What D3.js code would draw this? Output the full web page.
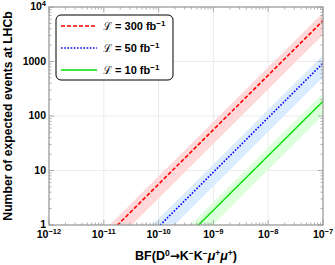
<!DOCTYPE html>
<html>
<head>
<meta charset="utf-8">
<script src="https://cdn.jsdelivr.net/npm/d3@7"></script>
<style>
body { margin: 0; background: #fff; }
text { font-family: "Liberation Sans", Arial, sans-serif; font-weight: bold; }
</style>
</head>
<body>
<div id="chart"></div>
<script>
// BF values at which each line / band edge is given
const bfPoints = [1e-12, 1e-7];
// expected events at those BF values
const red = [0.056, 5600], redHi = [0.0784, 7840], redLo = [0.0308, 3080];
const blue = [0.00933, 933], blueHi = [0.01306, 1306], blueLo = [0.00513, 513];
const green = [0.00187, 187], greenHi = [0.00262, 262], greenLo = [0.00103, 103];
const lumis = ["300", "50", "10"];
const xTickExp = [-12, -11, -10, -9, -8, -7];
const yTicks = [1, 10, 100, 1000, 10000];
const yTickLabels = ["1", "10", "100", "1000", "10^4"];

const width = 335, height = 265;
const m = {left: 49, right: 12, top: 7, bottom: 40};

const svg = d3.select("#chart").append("svg")
    .attr("width", width).attr("height", height);

const x = d3.scaleLog().domain([1e-12, 1e-7]).range([m.left, width - m.right]);
const y = d3.scaleLog().domain([1, 1e4]).range([height - m.bottom, m.top]);

svg.append("clipPath").attr("id", "clip")
    .append("rect")
    .attr("x", m.left).attr("y", m.top)
    .attr("width", width - m.left - m.right)
    .attr("height", height - m.top - m.bottom);

// grid
const grid = svg.append("g");
xTickExp.forEach(e => {
    grid.append("line")
        .attr("x1", x(Math.pow(10, e))).attr("x2", x(Math.pow(10, e)))
        .attr("y1", m.top).attr("y2", height - m.bottom)
        .attr("stroke", "#ebebeb").attr("stroke-width", 1);
});
yTicks.forEach(v => {
    grid.append("line")
        .attr("x1", m.left).attr("x2", width - m.right)
        .attr("y1", y(v)).attr("y2", y(v))
        .attr("stroke", "#ebebeb").attr("stroke-width", 1);
});

const series = [
    {c: red, hi: redHi, lo: redLo, color: "#ff0000", band: "#ffd9d9", dash: "4,2", w: 1.6},
    {c: blue, hi: blueHi, lo: blueLo, color: "#0000ff", band: "#dcecff", dash: "1.6,1.6", w: 1.6},
    {c: green, hi: greenHi, lo: greenLo, color: "#00dd00", band: "#dcffdc", dash: null, w: 1.4}
];

const plot = svg.append("g").attr("clip-path", "url(#clip)");
const line = d3.line().x(d => x(d[0])).y(d => y(d[1]));

series.forEach(s => {
    const poly = bfPoints.map((b, i) => [b, s.hi[i]])
        .concat(bfPoints.map((b, i) => [b, s.lo[i]]).reverse());
    plot.append("path")
        .attr("d", line(poly) + "Z")
        .attr("fill", s.band);
});
series.forEach(s => {
    plot.append("path")
        .attr("d", line(bfPoints.map((b, i) => [b, s.c[i]])))
        .attr("fill", "none")
        .attr("stroke", s.color)
        .attr("stroke-width", s.w)
        .attr("stroke-dasharray", s.dash);
});

// frame and inside ticks
const x0 = m.left, x1 = width - m.right, y0 = height - m.bottom, y1 = m.top;
const ticks = svg.append("g").attr("stroke", "#999").attr("stroke-width", 0.8);
const xMinor = [], yMinor = [];
for (let e = -12; e < -7; e++) for (let k = 1; k < 10; k++) xMinor.push([k * Math.pow(10, e), k === 1]);
xMinor.push([1e-7, true]);
for (let e = 0; e < 4; e++) for (let k = 1; k < 10; k++) yMinor.push([k * Math.pow(10, e), k === 1]);
yMinor.push([1e4, true]);
xMinor.forEach(([v, major]) => {
    const L = major ? 5 : 2.5;
    ticks.append("line").attr("x1", x(v)).attr("x2", x(v)).attr("y1", y0).attr("y2", y0 - L);
    ticks.append("line").attr("x1", x(v)).attr("x2", x(v)).attr("y1", y1).attr("y2", y1 + L);
});
yMinor.forEach(([v, major]) => {
    const L = major ? 5 : 2.5;
    ticks.append("line").attr("y1", y(v)).attr("y2", y(v)).attr("x1", x0).attr("x2", x0 + L);
    ticks.append("line").attr("y1", y(v)).attr("y2", y(v)).attr("x1", x1).attr("x2", x1 - L);
});
svg.append("rect")
    .attr("x", x0).attr("y", y1).attr("width", x1 - x0).attr("height", y0 - y1)
    .attr("fill", "none").attr("stroke", "#999").attr("stroke-width", 1.2);

// tick labels
xTickExp.forEach(e => {
    const t = svg.append("text")
        .attr("x", x(Math.pow(10, e))).attr("y", y0 + 13)
        .attr("text-anchor", "middle").attr("font-size", 10.5);
    t.append("tspan").text("10");
    t.append("tspan").attr("dy", -4).attr("font-size", 7.5).text("\u2212" + Math.abs(e));
});
yTicks.forEach((v, i) => {
    const t = svg.append("text")
        .attr("x", x0 - 3).attr("y", y(v) + 3)
        .attr("text-anchor", "end").attr("font-size", 10.5);
    const lab = yTickLabels[i];
    if (lab.includes("^")) {
        const [b, p] = lab.split("^");
        t.append("tspan").text(b);
        t.append("tspan").attr("dy", -4).attr("font-size", 7.5).text(p);
    } else t.text(lab);
});

// axis titles
svg.append("text")
    .attr("transform", `translate(12,${(y0 + y1) / 2}) rotate(-90)`)
    .attr("text-anchor", "middle").attr("font-size", 12.2)
    .text("Number of expected events at LHCb");

const xl = svg.append("text")
    .attr("x", (x0 + x1) / 2).attr("y", 260)
    .attr("text-anchor", "middle").attr("font-size", 12.5);
xl.append("tspan").text("BF(D");
xl.append("tspan").attr("dy", -4.5).attr("font-size", 8.5).text("0");
xl.append("tspan").attr("dy", 4.5).attr("font-family", "DejaVu Sans").attr("font-size", 12).text("\u2192");
xl.append("tspan").text("K");
xl.append("tspan").attr("dy", -4.5).attr("font-size", 8.5).text("\u2212");
xl.append("tspan").attr("dy", 4.5).text("K");
xl.append("tspan").attr("dy", -4.5).attr("font-size", 8.5).text("\u2212");
xl.append("tspan").attr("dy", 4.5).attr("font-style", "italic").text("\u03bc");
xl.append("tspan").attr("dy", -4.5).attr("font-size", 8.5).text("+");
xl.append("tspan").attr("dy", 4.5).attr("font-style", "italic").text("\u03bc");
xl.append("tspan").attr("dy", -4.5).attr("font-size", 8.5).text("+");
xl.append("tspan").attr("dy", 4.5).text(")");

// legend
const lg = svg.append("g");
lg.append("rect")
    .attr("x", 56).attr("y", 15).attr("width", 117).attr("height", 65)
    .attr("rx", 5).attr("fill", "#fff").attr("stroke", "#000").attr("stroke-width", 1);
series.forEach((s, i) => {
    const ly = 26 + i * 22;
    lg.append("line")
        .attr("x1", 61).attr("x2", 97).attr("y1", ly).attr("y2", ly)
        .attr("stroke", s.color).attr("stroke-width", s.w)
        .attr("stroke-dasharray", s.dash);
    const t = lg.append("text").attr("x", 103).attr("y", ly + 4).attr("font-size", 11);
    t.append("tspan").attr("font-family", "DejaVu Serif").attr("font-weight", "normal").text("\u2112");
    t.append("tspan").text(" = " + lumis[i] + " fb");
    t.append("tspan").attr("dy", -4).attr("font-size", 8).text("\u22121");
});
</script>
</body>
</html>
